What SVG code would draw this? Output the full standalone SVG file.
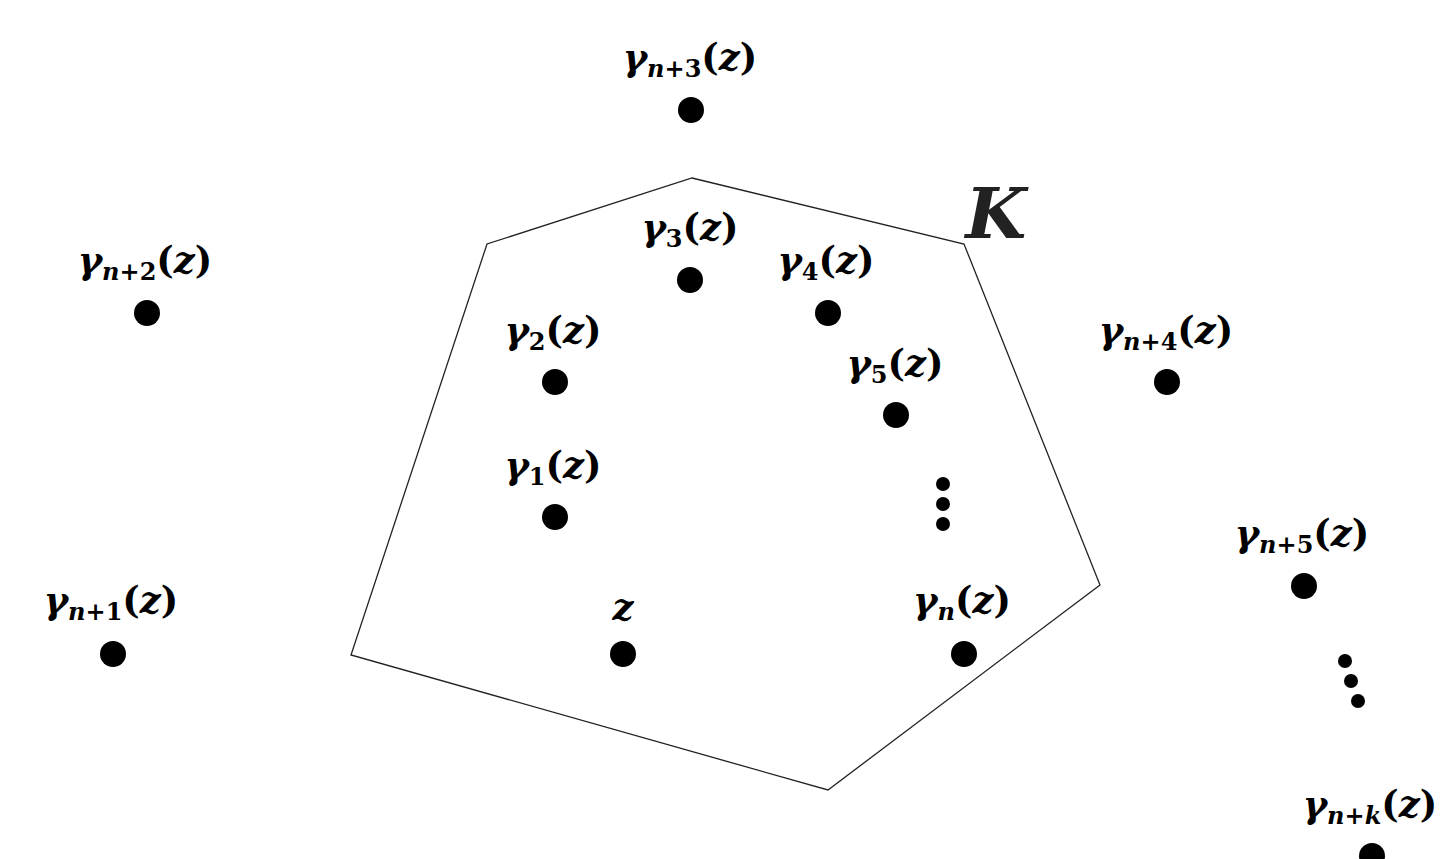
<svg xmlns="http://www.w3.org/2000/svg" width="1449" height="859" viewBox="0 0 1449 859">
<style>
.lbl{font-family:"DejaVu Serif","Liberation Serif",serif;font-style:italic;font-weight:bold;font-size:37px;fill:#000;text-anchor:middle}
.sub{font-size:24px}
.up{font-style:normal}
.pt{fill:#000}
.big{font-family:"DejaVu Serif","Liberation Serif",serif;font-style:italic;font-weight:bold;font-size:70px;fill:#222;text-anchor:middle}
</style>
<rect width="1449" height="859" fill="#fff"/>
<g id="connectors">
<polygon id="K-region" points="692,178 964,244 1100,585 828,790 351,655 487,244" fill="none" stroke="#222" stroke-width="1.3"/>
</g>
<text class="big" x="996" y="238">K</text>
<g id="gn3"><circle class="pt" cx="691" cy="110" r="13"/><text class="lbl" x="690" y="70">γ<tspan class="sub" dy="7">n</tspan><tspan class="sub up">+3</tspan><tspan dy="-7" class="up">(</tspan>z<tspan class="up">)</tspan></text></g>
<g id="g3"><circle class="pt" cx="690" cy="280" r="13"/><text class="lbl" x="690" y="240">γ<tspan class="sub up" dy="7">3</tspan><tspan dy="-7" class="up">(</tspan>z<tspan class="up">)</tspan></text></g>
<g id="g4"><circle class="pt" cx="828" cy="313" r="13"/><text class="lbl" x="826" y="273">γ<tspan class="sub up" dy="7">4</tspan><tspan dy="-7" class="up">(</tspan>z<tspan class="up">)</tspan></text></g>
<g id="g2"><circle class="pt" cx="555" cy="382" r="13"/><text class="lbl" x="553" y="343">γ<tspan class="sub up" dy="7">2</tspan><tspan dy="-7" class="up">(</tspan>z<tspan class="up">)</tspan></text></g>
<g id="g5"><circle class="pt" cx="896" cy="415" r="13"/><text class="lbl" x="895" y="376">γ<tspan class="sub up" dy="7">5</tspan><tspan dy="-7" class="up">(</tspan>z<tspan class="up">)</tspan></text></g>
<g id="g1"><circle class="pt" cx="555" cy="517" r="13"/><text class="lbl" x="553" y="478">γ<tspan class="sub up" dy="7">1</tspan><tspan dy="-7" class="up">(</tspan>z<tspan class="up">)</tspan></text></g>
<g id="z"><circle class="pt" cx="623" cy="654" r="13"/><text class="lbl" x="623" y="620">z</text></g>
<g id="gn"><circle class="pt" cx="964" cy="654" r="13"/><text class="lbl" x="962" y="613">γ<tspan class="sub" dy="7">n</tspan><tspan dy="-7" class="up">(</tspan>z<tspan class="up">)</tspan></text></g>
<g id="gn2"><circle class="pt" cx="147" cy="313" r="13"/><text class="lbl" x="145" y="273">γ<tspan class="sub" dy="7">n</tspan><tspan class="sub up">+2</tspan><tspan dy="-7" class="up">(</tspan>z<tspan class="up">)</tspan></text></g>
<g id="gn1"><circle class="pt" cx="113" cy="654" r="13"/><text class="lbl" x="111" y="613">γ<tspan class="sub" dy="7">n</tspan><tspan class="sub up">+1</tspan><tspan dy="-7" class="up">(</tspan>z<tspan class="up">)</tspan></text></g>
<g id="gn4"><circle class="pt" cx="1167" cy="382" r="13"/><text class="lbl" x="1166" y="343">γ<tspan class="sub" dy="7">n</tspan><tspan class="sub up">+4</tspan><tspan dy="-7" class="up">(</tspan>z<tspan class="up">)</tspan></text></g>
<g id="gn5"><circle class="pt" cx="1304" cy="586" r="13"/><text class="lbl" x="1302" y="546">γ<tspan class="sub" dy="7">n</tspan><tspan class="sub up">+5</tspan><tspan dy="-7" class="up">(</tspan>z<tspan class="up">)</tspan></text></g>
<g id="gnk"><circle class="pt" cx="1372" cy="856" r="13"/><text class="lbl" x="1370" y="817">γ<tspan class="sub" dy="7">n</tspan><tspan class="sub up">+</tspan><tspan class="sub">k</tspan><tspan dy="-7" class="up">(</tspan>z<tspan class="up">)</tspan></text></g>
<g id="dots-inner"><circle class="pt" cx="943" cy="484" r="7"/><circle class="pt" cx="943" cy="504" r="7"/><circle class="pt" cx="943" cy="524" r="7"/></g>
<g id="dots-outer"><circle class="pt" cx="1345" cy="661" r="7"/><circle class="pt" cx="1351" cy="681" r="7"/><circle class="pt" cx="1358" cy="701" r="7"/></g>
</svg>
